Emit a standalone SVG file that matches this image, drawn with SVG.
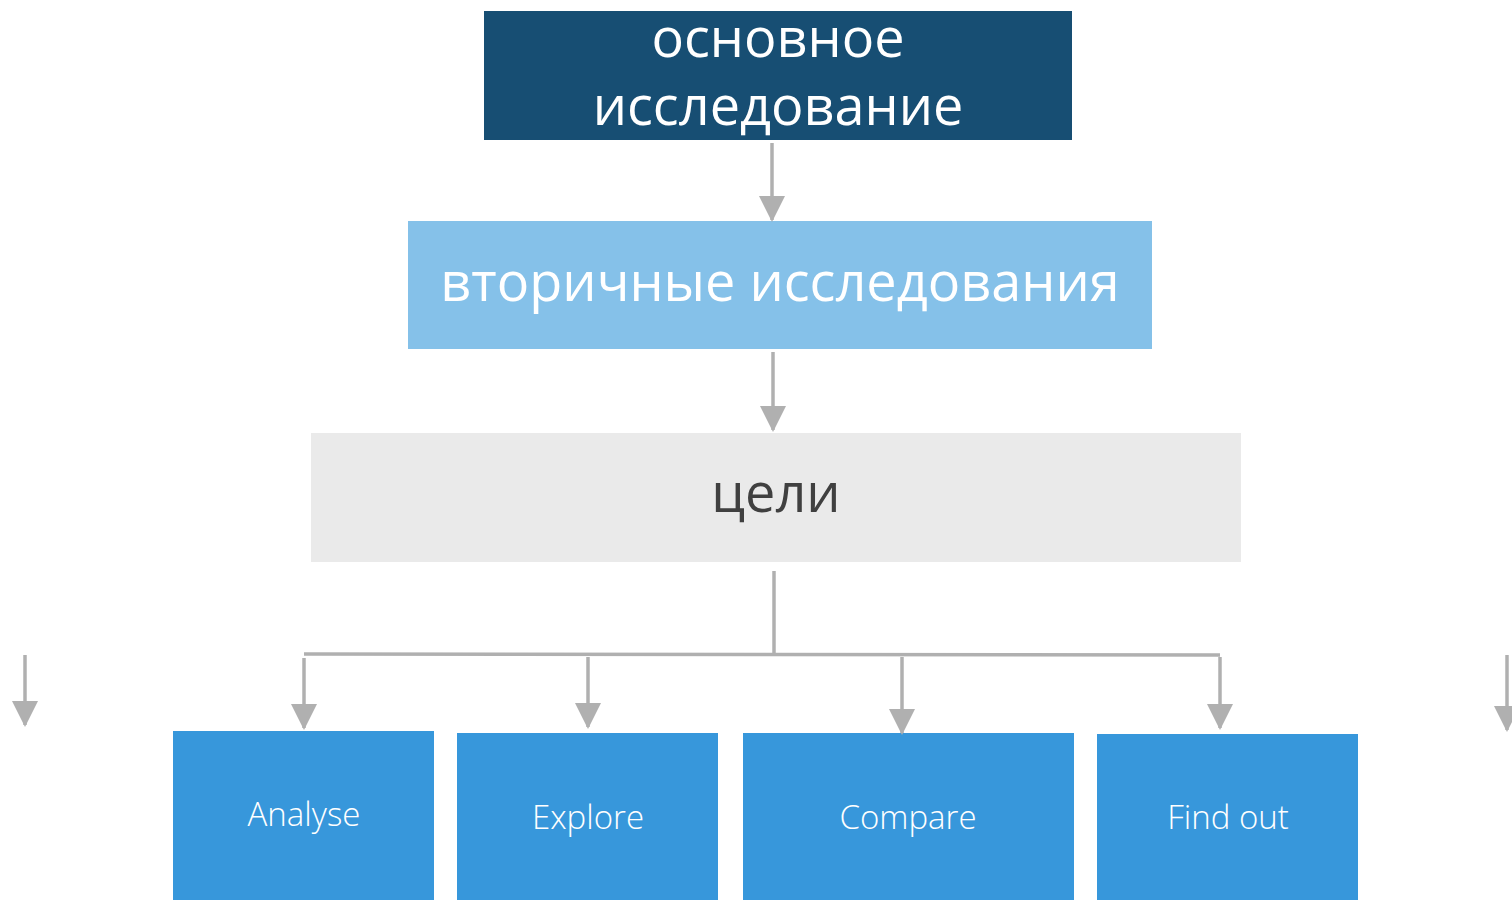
<svg xmlns="http://www.w3.org/2000/svg" width="1512" height="900" viewBox="0 0 1512 900">
<defs>
<marker id="ah" markerWidth="26" markerHeight="26" refX="24" refY="13" orient="auto" markerUnits="userSpaceOnUse" viewBox="0 0 26 26">
<path d="M0,0 L26,13 L0,26 Z" fill="#B0B0B0"/>
</marker>
<style>
.big{font-family:"Open Sans","Noto Sans",sans-serif;font-size:54px;text-anchor:middle}
.small{font-family:"Open Sans","Noto Sans",sans-serif;font-size:33px;font-weight:300;fill:#fff;text-anchor:middle}
.c{stroke:#B0B0B0;stroke-width:3.5;fill:none}
.blue{fill:#3797DB}
</style>
</defs>
<rect width="1512" height="900" fill="#fff"/>
<g id="n-main">
<rect x="484" y="11" width="588" height="129" fill="#174E73"/>
<text class="big" x="778" y="57" fill="#fff">основное</text>
<text class="big" x="778" y="125" fill="#fff">исследование</text>
</g>
<g id="n-secondary">
<rect x="408" y="221" width="744" height="128" fill="#85C1E9"/>
<text class="big" x="780" y="301" fill="#fff">вторичные исследования</text>
</g>
<g id="n-goals">
<rect x="311" y="433" width="930" height="129" fill="#EAEAEA"/>
<text class="big" x="776" y="512" fill="#404040">цели</text>
</g>
<g id="n-analyse">
<rect class="blue" x="173" y="731" width="261" height="169"/>
<text class="small" x="304" y="826">Analyse</text>
</g>
<g id="n-explore">
<rect class="blue" x="457" y="733" width="261" height="167"/>
<text class="small" x="588" y="829">Explore</text>
</g>
<g id="n-compare">
<rect class="blue" x="743" y="733" width="331" height="167"/>
<text class="small" x="908" y="829">Compare</text>
</g>
<g id="n-findout">
<rect class="blue" x="1097" y="734" width="261" height="166"/>
<text class="small" x="1228" y="829">Find out</text>
</g>
<g id="connectors">
<line class="c" x1="772" y1="143" x2="772" y2="220" marker-end="url(#ah)"/>
<line class="c" x1="773" y1="352" x2="773" y2="430" marker-end="url(#ah)"/>
<line class="c" x1="774" y1="571" x2="774" y2="654"/>
<line class="c" x1="304" y1="654" x2="1220" y2="655"/>
<line class="c" x1="304" y1="658" x2="304" y2="728" marker-end="url(#ah)"/>
<line class="c" x1="588" y1="657" x2="588" y2="727" marker-end="url(#ah)"/>
<line class="c" x1="902" y1="657" x2="902" y2="733" marker-end="url(#ah)"/>
<line class="c" x1="1220" y1="657" x2="1220" y2="728" marker-end="url(#ah)"/>
<line class="c" x1="25" y1="655" x2="25" y2="725" marker-end="url(#ah)"/>
<line class="c" x1="1507" y1="655" x2="1507" y2="730" marker-end="url(#ah)"/>
</g>
</svg>
